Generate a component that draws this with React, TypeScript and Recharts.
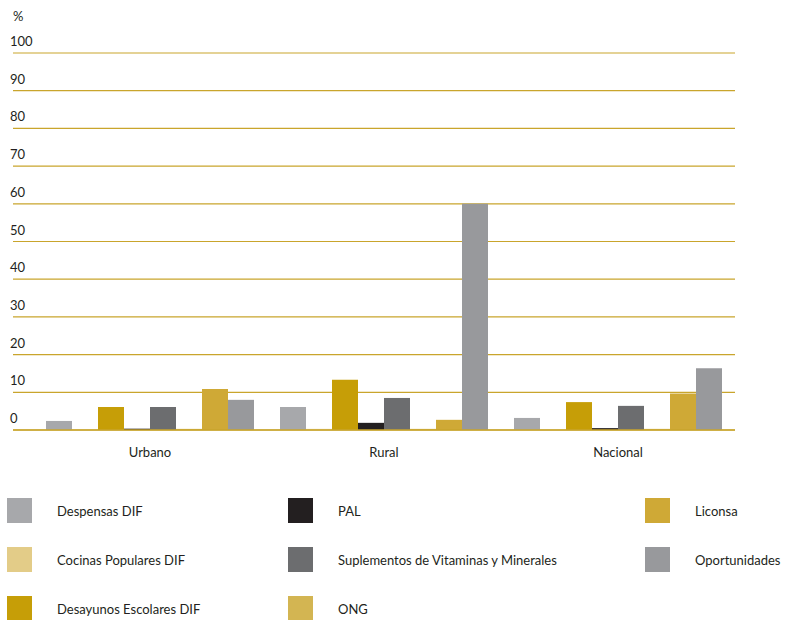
import { BarChart, Bar, XAxis, YAxis, CartesianGrid } from 'recharts'

const categories = ['Urbano', 'Rural', 'Nacional']
const despensas = [2.4, 6.1, 3.2]
const cocinas = [0, 0.3, 0]
const desayunos = [6.1, 13.3, 7.4]
const pal = [0.35, 1.9, 0.5]
const suplementos = [6.1, 8.5, 6.4]
const ong = [0.3, 0.3, 0.3]
const liconsa = [10.9, 2.7, 9.7]
const oportunidades = [8.0, 60.0, 16.4]
const yTicks = [0, 10, 20, 30, 40, 50, 60, 70, 80, 90, 100]

const series = [
  { key: 'despensas', name: 'Despensas DIF', color: '#a7a8ab', values: despensas },
  { key: 'cocinas', name: 'Cocinas Populares DIF', color: '#e3cc88', values: cocinas },
  { key: 'desayunos', name: 'Desayunos Escolares DIF', color: '#c69e07', values: desayunos },
  { key: 'pal', name: 'PAL', color: '#231f20', values: pal },
  { key: 'suplementos', name: 'Suplementos de Vitaminas y Minerales', color: '#6c6d6f', values: suplementos },
  { key: 'ong', name: 'ONG', color: '#d3b552', values: ong },
  { key: 'liconsa', name: 'Liconsa', color: '#cfa936', values: liconsa },
  { key: 'oportunidades', name: 'Oportunidades', color: '#98999c', values: oportunidades },
]

const data = categories.map((c, i) => {
  const row: Record<string, string | number> = { name: c }
  series.forEach(s => { row[s.key] = s.values[i] })
  return row
})

const FONT = 'Lato, "Open Sans", sans-serif'
const GOLD = '#c9a52c'

const YTick = ({ y, payload }: { y?: number; payload?: { value: number } }) => (
  <text x={10} y={(y ?? 0) - 7} fontSize={13} fill="#231f20" fontFamily={FONT} textAnchor="start">
    {payload?.value}
  </text>
)

// legend laid out in 3 columns, filled top to bottom
const legendCols = [7, 288, 645]
const legendRows = [498, 547, 596]

export default function App() {
  return (
    <div style={{ position: 'absolute', left: 0, top: 0, width: 785, height: 620, background: '#fff', fontFamily: FONT }}>
      <BarChart
        width={785}
        height={465}
        data={data}
        margin={{ top: 53, right: 50, bottom: 0, left: 0 }}
        barCategoryGap={13}
        barGap={0}
      >
        <CartesianGrid vertical={false} stroke={GOLD} strokeWidth={1.2} />
        <XAxis
          dataKey="name"
          padding={{ left: 20, right: 0 }}
          axisLine={{ stroke: GOLD, strokeWidth: 1.5 }}
          tickLine={false}
          tickMargin={12}
          height={35}
          tick={{ fontSize: 13, fill: '#231f20', fontFamily: FONT }}
        />
        <YAxis width={13} domain={[0, 100]} ticks={yTicks} axisLine={false} tickLine={false} tick={<YTick />} interval={0} />
        {series.map(s => (
          <Bar key={s.key} dataKey={s.key} name={s.name} fill={s.color} isAnimationActive={false} />
        ))}
        <text x={13} y={21} fontSize={13} fill="#231f20" fontFamily={FONT}>%</text>
      </BarChart>
      {series.map((s, i) => {
        const col = Math.floor(i / 3)
        const row = i % 3
        return (
          <div key={s.key} style={{ position: 'absolute', left: legendCols[col], top: legendRows[row], display: 'flex', alignItems: 'center', height: 25 }}>
            <div style={{ width: 25, height: 25, background: s.color }} />
            <span style={{ marginLeft: 25, fontSize: 13, color: '#231f20' }}>{s.name}</span>
          </div>
        )
      })}
    </div>
  )
}
